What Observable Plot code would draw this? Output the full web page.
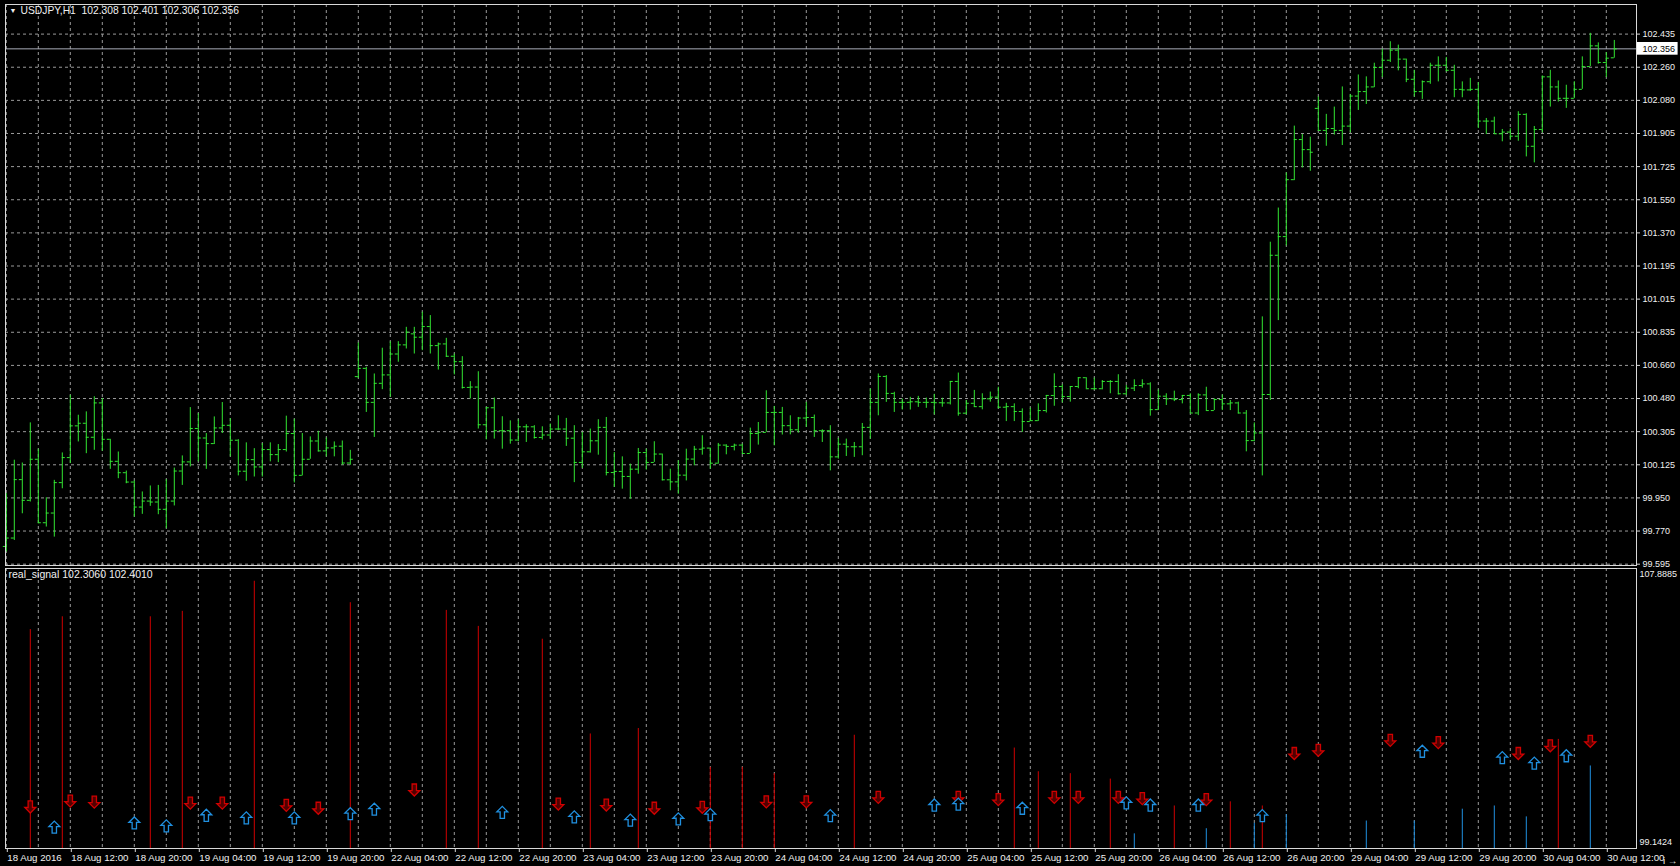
<!DOCTYPE html>
<html><head><meta charset="utf-8">
<script src="https://cdn.jsdelivr.net/npm/d3@7"></script>
<script src="https://cdn.jsdelivr.net/npm/@observablehq/plot@0.6"></script>
<style>
html,body{margin:0;padding:0;background:#000;}
#chart{width:1680px;height:866px;overflow:hidden;background:#000;}
#chart svg{display:block;overflow:visible;}
</style></head><body><div id="chart"></div>
<script>
// ---- price bars (USDJPY H1), bar index 0 = 18 Aug 2016 04:00 ----
const open = [99.69,99.735,100.048,99.937,100.157,99.817,99.869,100.032,100.166,100.336,100.350,100.275,100.459,100.264,100.146,100.085,100.035,99.901,99.933,99.928,99.889,99.933,100.094,100.143,100.322,100.271,100.241,100.325,100.339,100.259,100.093,100.155,100.116,100.209,100.182,100.209,100.295,100.071,100.157,100.255,100.202,100.218,100.227,100.137,100.60,100.644,100.462,100.564,100.609,100.721,100.770,100.829,100.811,100.868,100.766,100.775,100.709,100.680,100.542,100.544,100.342,100.433,100.310,100.310,100.260,100.331,100.331,100.274,100.287,100.319,100.319,100.270,100.140,100.197,100.256,100.328,100.086,100.092,100.065,100.104,100.193,100.140,100.185,100.047,100.036,100.072,100.158,100.211,100.217,100.136,100.233,100.226,100.233,100.188,100.295,100.301,100.408,100.408,100.337,100.315,100.378,100.381,100.310,100.310,100.170,100.238,100.224,100.224,100.328,100.462,100.601,100.510,100.462,100.462,100.465,100.462,100.462,100.460,100.459,100.574,100.404,100.457,100.439,100.481,100.490,100.436,100.439,100.413,100.359,100.364,100.418,100.499,100.547,100.493,100.547,100.594,100.535,100.535,100.574,100.574,100.508,100.538,100.552,100.561,100.423,100.495,100.481,100.477,100.499,100.405,100.502,100.418,100.477,100.454,100.459,100.405,100.257,100.298,100.504,101.25,101.35,101.655,101.870,101.816,102.037,101.919,101.929,101.919,101.942,102.103,102.127,102.152,102.256,102.295,102.349,102.301,102.193,102.127,102.180,102.268,102.268,102.241,102.139,102.136,102.139,101.969,101.969,101.901,101.910,101.888,102.005,101.834,101.924,102.206,102.152,102.091,102.091,102.139,102.261,102.372,102.283,102.308];
const high = [99.973,100.152,100.137,100.352,100.211,99.951,100.044,100.191,100.500,100.393,100.411,100.492,100.483,100.264,100.196,100.094,100.041,99.982,100.014,100.017,100.048,100.110,100.175,100.434,100.402,100.295,100.384,100.461,100.375,100.262,100.245,100.214,100.241,100.245,100.236,100.388,100.372,100.295,100.277,100.307,100.271,100.250,100.255,100.205,100.78,100.650,100.614,100.752,100.787,100.787,100.864,100.864,100.945,100.927,100.780,100.805,100.721,100.707,100.573,100.626,100.435,100.485,100.385,100.363,100.369,100.342,100.337,100.331,100.346,100.390,100.376,100.337,100.301,100.319,100.369,100.381,100.193,100.170,100.131,100.215,100.211,100.251,100.185,100.104,100.149,100.211,100.226,100.283,100.217,100.242,100.235,100.238,100.238,100.324,100.354,100.524,100.440,100.435,100.390,100.381,100.462,100.394,100.315,100.337,100.269,100.265,100.247,100.349,100.533,100.614,100.605,100.516,100.480,100.489,100.494,100.485,100.505,100.484,100.574,100.619,100.472,100.526,100.508,100.517,100.543,100.457,100.454,100.427,100.431,100.454,100.499,100.615,100.556,100.547,100.594,100.594,100.592,100.579,100.579,100.610,100.552,100.583,100.583,100.567,100.529,100.508,100.522,100.499,100.508,100.508,100.543,100.481,100.502,100.472,100.463,100.418,100.352,100.92,101.32,101.503,101.691,101.942,101.897,101.883,102.098,102.005,102.044,102.152,102.112,102.216,102.206,102.279,102.354,102.394,102.376,102.301,102.241,102.184,102.279,102.313,102.310,102.268,102.179,102.198,102.175,101.983,101.990,101.924,101.928,102.019,102.008,101.940,102.211,102.241,102.184,102.161,102.180,102.313,102.439,102.388,102.336,102.401];
const low = [99.660,99.722,99.865,99.928,99.812,99.794,99.740,99.999,100.134,100.250,100.187,100.205,100.200,100.103,100.053,100.026,99.847,99.862,99.905,99.860,99.785,99.907,100.017,100.116,100.143,100.103,100.236,100.295,100.170,100.068,100.039,100.062,100.062,100.143,100.139,100.196,100.030,100.068,100.157,100.196,100.170,100.170,100.125,100.125,100.59,100.408,100.274,100.530,100.489,100.677,100.748,100.721,100.739,100.721,100.635,100.703,100.609,100.533,100.480,100.319,100.261,100.265,100.211,100.238,100.251,100.247,100.265,100.260,100.265,100.310,100.226,100.032,100.108,100.19,100.179,100.068,100.006,99.997,99.943,100.077,100.099,100.140,100.041,99.988,99.970,100.041,100.122,100.179,100.104,100.131,100.181,100.202,100.185,100.188,100.233,100.301,100.229,100.287,100.288,100.297,100.328,100.274,100.247,100.095,100.158,100.172,100.167,100.176,100.265,100.390,100.462,100.408,100.421,100.421,100.435,100.430,100.395,100.436,100.448,100.388,100.395,100.436,100.422,100.463,100.427,100.359,100.359,100.301,100.359,100.36,100.405,100.441,100.459,100.463,100.535,100.535,100.526,100.529,100.508,100.502,100.499,100.520,100.538,100.388,100.418,100.445,100.466,100.454,100.405,100.391,100.418,100.418,100.418,100.418,100.400,100.197,100.251,100.068,100.472,100.90,101.30,101.650,101.718,101.700,101.915,101.834,101.894,101.838,101.906,102.026,102.058,102.148,102.202,102.283,102.238,102.175,102.098,102.085,102.166,102.179,102.232,102.094,102.094,102.127,101.929,101.897,101.897,101.858,101.865,101.861,101.777,101.745,101.906,102.044,102.071,102.037,102.089,102.139,102.261,102.274,102.202,102.306];
const close = [99.735,100.048,99.937,100.157,99.817,99.869,100.032,100.166,100.336,100.350,100.275,100.459,100.264,100.146,100.085,100.035,99.901,99.933,99.928,99.889,99.933,100.094,100.143,100.322,100.271,100.241,100.325,100.339,100.259,100.093,100.155,100.116,100.209,100.182,100.209,100.295,100.071,100.157,100.255,100.202,100.218,100.227,100.137,100.157,100.644,100.462,100.564,100.609,100.721,100.770,100.838,100.811,100.868,100.766,100.775,100.709,100.680,100.542,100.544,100.342,100.433,100.310,100.310,100.260,100.331,100.331,100.274,100.287,100.319,100.319,100.270,100.140,100.197,100.256,100.328,100.086,100.092,100.065,100.104,100.193,100.140,100.185,100.047,100.036,100.072,100.158,100.211,100.217,100.136,100.233,100.226,100.233,100.188,100.295,100.301,100.408,100.408,100.337,100.315,100.378,100.381,100.310,100.310,100.170,100.238,100.224,100.224,100.328,100.462,100.601,100.510,100.462,100.462,100.465,100.462,100.462,100.460,100.459,100.574,100.404,100.457,100.439,100.481,100.490,100.436,100.439,100.413,100.359,100.364,100.418,100.499,100.547,100.493,100.547,100.594,100.535,100.535,100.574,100.574,100.508,100.538,100.552,100.561,100.423,100.495,100.481,100.477,100.499,100.405,100.502,100.418,100.477,100.454,100.459,100.405,100.257,100.298,100.504,101.25,101.35,101.655,101.870,101.816,101.802,101.919,101.929,101.919,101.942,102.103,102.127,102.152,102.256,102.295,102.349,102.301,102.193,102.127,102.180,102.268,102.268,102.241,102.139,102.136,102.139,101.969,101.969,101.901,101.910,101.888,102.005,101.834,101.924,102.206,102.152,102.091,102.091,102.139,102.261,102.372,102.283,102.306,102.356];

// ---- price axis ----
const yTickValues = [102.435,102.2575,102.08,101.9025,101.725,101.5475,101.37,101.1925,101.015,100.8375,100.66,100.4825,100.305,100.1275,99.95,99.7725,99.595];
const yTickLabels = ["102.435","102.260","102.080","101.905","101.725","101.550","101.370","101.195","101.015","100.835","100.660","100.480","100.305","100.125","99.950","99.770","99.595"];
const currentPrice = 102.356;
const titleText = "USDJPY,H1  102.308 102.401 102.306 102.356";

// ---- time axis ----
const xTickIdx = [0,8,16,24,32,40,48,56,64,72,80,88,96,104,112,120,128,136,144,152,160,168,176,184,192,200];
const xTickLabels = ["18 Aug 2016","18 Aug 12:00","18 Aug 20:00","19 Aug 04:00","19 Aug 12:00","19 Aug 20:00","22 Aug 04:00","22 Aug 12:00","22 Aug 20:00","23 Aug 04:00","23 Aug 12:00","23 Aug 20:00","24 Aug 04:00","24 Aug 12:00","24 Aug 20:00","25 Aug 04:00","25 Aug 12:00","25 Aug 20:00","26 Aug 04:00","26 Aug 12:00","26 Aug 20:00","29 Aug 04:00","29 Aug 12:00","29 Aug 20:00","30 Aug 04:00","30 Aug 12:00"];

// ---- real_signal indicator ----
const sigTitle = "real_signal 102.3060 102.4010";
const sigMin = 99.1424, sigMax = 107.8885;
const redHistIdx = [3,7,18,22,31,43,55,59,67,73,79,88,92,96,106,126,129,133,138,146,153,157,194];
const redHistVal = [105.98,106.38,106.38,106.55,107.49,106.82,106.58,106.08,105.68,102.72,102.89,101.68,101.68,101.48,102.68,102.28,101.54,101.48,101.31,100.47,100.60,100.47,102.55];
const blueHistIdx = [141,150,156,160,170,176,182,186,190,198];
const blueHistVal = [99.60,99.76,99.93,100.20,100.00,100.00,100.37,100.47,100.13,101.72];
const sellIdx = [3,8,11,23,27,35,39,51,69,75,81,87,95,100,109,119,124,131,134,139,142,150,161,164,173,179,189,193,198];
const sellVal = [100.44,100.62,100.59,100.56,100.56,100.49,100.40,100.97,100.53,100.50,100.40,100.43,100.60,100.60,100.74,100.74,100.67,100.74,100.74,100.74,100.70,100.67,102.11,102.21,102.52,102.45,102.11,102.35,102.49];
const buyIdx = [6,16,20,25,30,36,43,46,62,71,78,84,88,103,116,119,127,140,143,149,157,177,187,191,195];
const buyVal = [99.81,99.94,99.85,100.18,100.10,100.10,100.23,100.37,100.27,100.13,100.03,100.07,100.20,100.17,100.50,100.53,100.40,100.57,100.50,100.50,100.17,102.18,101.98,101.81,102.04];

// ---- build tables ----
const bars = close.map((c, i) => ({i, o: open[i], h: high[i], l: low[i], c}));
const redHist = redHistIdx.map((i, k) => ({i, v: redHistVal[k]}));
const blueHist = blueHistIdx.map((i, k) => ({i, v: blueHistVal[k]}));
const sells = sellIdx.map((i, k) => ({i, v: sellVal[k]}));
const buys = buyIdx.map((i, k) => ({i, v: buyVal[k]}));
const gridX = d3.range(0, 204, 4);
const yLabelMap = new Map(yTickValues.map((v, k) => [v, yTickLabels[k]]));
const xLabelMap = new Map(xTickIdx.map((v, k) => [v, xTickLabels[k]]));

const W = 1680, font = "'Liberation Sans', Arial, sans-serif";
const xDomain = [-0.1, 203.775];
const green = "#32e632", gridColor = "#9a9a9a", frameColor = "#d8d8d8", textColor = "#f0f0f0";
const redC = "#d00000", blueC = "#2090e0";

// hollow block arrows for the signal marks
function arrowSymbol(dir) {
  return {draw(ctx, size) {
    const s = Math.sqrt(size / Math.PI) / 5.5;
    const pts = [[-2,-5.5],[2,-5.5],[2,0.5],[5,0.5],[0,5.5],[-5,0.5],[-2,0.5]];
    pts.forEach(([x, y], k) => { const yy = dir * y * s, xx = x * s; k ? ctx.lineTo(xx, yy) : ctx.moveTo(xx, yy); });
    ctx.closePath();
  }};
}
const downArrow = arrowSymbol(1), upArrow = arrowSymbol(-1);

const main = Plot.plot({
  width: W, height: 567, marginTop: 4, marginBottom: 2, marginLeft: 5, marginRight: 44,
  style: {background: "#000", color: textColor, fontFamily: font, fontSize: "9px", overflow: "visible"},
  x: {domain: xDomain, axis: null},
  y: {domain: [99.5879, 102.5936], axis: null},
  marks: [
    Plot.ruleY(yTickValues, {stroke: gridColor, strokeDasharray: "3,3"}),
    Plot.ruleX(gridX, {stroke: gridColor, strokeDasharray: "3,3"}),
    Plot.ruleY([currentPrice], {stroke: "#a8acb8"}),
    Plot.ruleX(bars, {x: "i", y1: "l", y2: "h", stroke: green}),
    Plot.ruleY(bars, {y: "o", x1: d => d.i - 0.375, x2: "i", stroke: green}),
    Plot.ruleY(bars, {y: "c", x1: "i", x2: d => d.i + 0.375, stroke: green}),
    Plot.frame({stroke: frameColor}),
    Plot.axisY(yTickValues, {anchor: "right", tickFormat: d => yLabelMap.get(d), tickSize: 3, tickPadding: 3, stroke: frameColor, fill: textColor, fontSize: 9}),
    Plot.rect([currentPrice], {x1: xDomain[1] + 0.1, x2: xDomain[1] + 5.2, y1: d => d - 0.034, y2: d => d + 0.034, fill: "white", clip: false}),
    Plot.text([currentPrice], {y: d => d, text: d => d.toFixed(3), frameAnchor: "right", dx: 6, textAnchor: "start", fill: "black", fontSize: 9}),
    Plot.text(["\u25BC"], {frameAnchor: "top-left", dx: 4, dy: 4, fontSize: 7, fill: textColor, textAnchor: "start", lineAnchor: "top"}),
    Plot.text([titleText], {frameAnchor: "top-left", dx: 15, dy: 2, fontSize: 10.3, fill: textColor, textAnchor: "start", lineAnchor: "top"})
  ]
});

const lower = Plot.plot({
  width: W, height: 299, marginTop: 1, marginBottom: 18, marginLeft: 5, marginRight: 44,
  style: {background: "transparent", color: textColor, fontFamily: font, fontSize: "9px", overflow: "visible"},
  x: {domain: xDomain, axis: null},
  y: {domain: [sigMin, sigMax], axis: null},
  marks: [
    Plot.ruleX(gridX, {stroke: gridColor, strokeDasharray: "3,3"}),
    Plot.ruleX(redHist, {x: "i", y1: () => sigMin, y2: "v", stroke: redC}),
    Plot.ruleX(blueHist, {x: "i", y1: () => sigMin, y2: "v", stroke: blueC}),
    Plot.dot(sells, {x: "i", y: "v", symbol: downArrow, r: 6, stroke: redC, fill: "#500000", strokeWidth: 1.3}),
    Plot.dot(buys, {x: "i", y: "v", symbol: upArrow, r: 6, stroke: blueC, fill: "#000", strokeWidth: 1.3}),
    Plot.frame({stroke: frameColor}),
    Plot.axisX(xTickIdx, {anchor: "bottom", tickFormat: d => xLabelMap.get(d), tickSize: 4, tickPadding: 2, textAnchor: "start", dx: 1, stroke: frameColor, fill: textColor, fontSize: 9.7}),
    Plot.text([sigMax], {y: d => d, text: d => d.toFixed(4), frameAnchor: "right", dx: 3, dy: 6, textAnchor: "start", fill: textColor, fontSize: 9}),
    Plot.text([sigMin], {y: d => d, text: d => d.toFixed(4), frameAnchor: "right", dx: 3, dy: -6, textAnchor: "start", fill: textColor, fontSize: 9}),
    Plot.text([sigTitle], {frameAnchor: "top-left", dx: 3, dy: 2, fontSize: 10.5, fill: textColor, textAnchor: "start", lineAnchor: "top"})
  ]
});

const root = document.getElementById("chart");
root.appendChild(main);
root.appendChild(lower);
</script></body></html>
